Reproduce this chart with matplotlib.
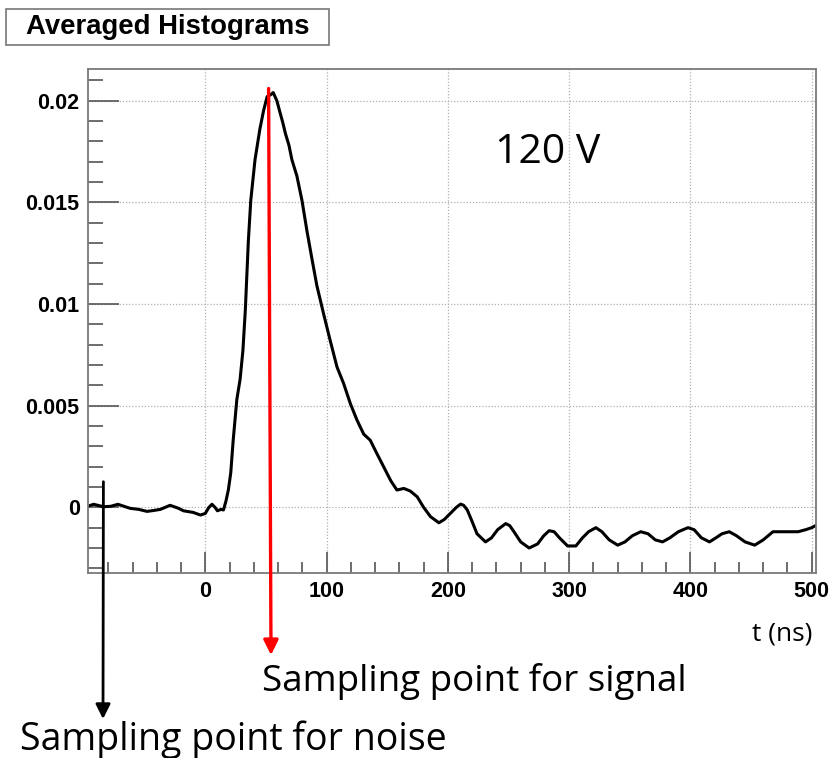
import matplotlib
matplotlib.use("Agg")
import matplotlib.pyplot as plt
from matplotlib.patches import Rectangle
from matplotlib.ticker import MultipleLocator

# averaged waveform (t in ns)
t = [-97, -92, -84, -78, -72, -62, -55, -48, -42, -37, -29, -22, -18, -10, -4, 0,
     3, 5.5, 8, 10, 13, 15, 17, 19, 21, 23, 26, 28.7, 31, 33, 35.5, 37.5, 41, 45,
     48, 51, 54, 56, 59, 61.7, 64, 66, 69, 71.4, 75.5, 79.7, 83.8, 88, 92, 97.6,
     103, 108.6, 114, 119.6, 125, 130.6, 136, 141, 147, 153, 158, 163.7, 169,
     174.7, 180, 185.7, 192.6, 197, 202, 207, 210.5, 213, 216, 220, 224, 231,
     236, 241, 247.7, 251, 254.5, 260, 267, 274, 279, 283.5, 287.6, 292, 298.7,
     305.5, 311, 316, 322, 327, 333, 340, 346, 352, 359, 365, 371, 377, 383, 390,
     398, 403, 409, 415.7, 421, 426, 432, 438, 445, 453, 460, 464, 468, 475, 482,
     488.8, 495, 500, 504]
v = [0.00005, 0.00015, 0.00003, 0.00005, 0.00015, -0.00005, -0.0001, -0.0002,
     -0.00015, -0.0001, 0.0001, -0.00005, -0.00017, -0.00025, -0.00038, -0.0003,
     0.0, 0.00015, 0.0, -0.00017, -0.0001, -0.00013, 0.0003, 0.00085, 0.0017,
     0.0033, 0.0053, 0.0063, 0.0077, 0.0097, 0.0131, 0.0151, 0.0171, 0.0186,
     0.0195, 0.0202, 0.0203, 0.0204, 0.0200, 0.0194, 0.0189, 0.0184, 0.0178,
     0.0171, 0.0163, 0.0151, 0.0136, 0.0122, 0.0109, 0.0095, 0.0082, 0.0069,
     0.0061, 0.0051, 0.0043, 0.0036, 0.0033, 0.0027, 0.0020, 0.0013, 0.00085,
     0.00093, 0.0008, 0.00052, 0.0, -0.00046, -0.00076, -0.0006, -0.0003, 0.0,
     0.00016, 0.0001, -0.00013, -0.0007, -0.0013, -0.0017, -0.0015, -0.0011,
     -0.0008, -0.0009, -0.0012, -0.0017, -0.0020, -0.0018, -0.0014, -0.00115,
     -0.0012, -0.0015, -0.0019, -0.0019, -0.0015, -0.0012, -0.0010, -0.0012,
     -0.0016, -0.00186, -0.0017, -0.0014, -0.0012, -0.0013, -0.0016, -0.0017,
     -0.0015, -0.0012, -0.0010, -0.0011, -0.0015, -0.0017, -0.0015, -0.0013,
     -0.0012, -0.0014, -0.0017, -0.00186, -0.0016, -0.0014, -0.0012, -0.0012,
     -0.0012, -0.0012, -0.0011, -0.001, -0.00087]

xticks = [0, 100, 200, 300, 400, 500]
yticks = [0, 0.005, 0.01, 0.015, 0.02]
ytick_labels = ["0", "0.005", "0.01", "0.015", "0.02"]

t_signal = 52.2
t_noise = -84

fig = plt.figure(figsize=(8.33, 7.58), dpi=100)
ax = fig.add_axes([88/833, 1-573/758, (816-88)/833, (573-69.3)/758])

ax.plot(t, v, color="black", lw=2.2)
ax.set_xlim(-96.7, 503.5)
ax.set_ylim(-0.00323, 0.021545)

# ROOT-like frame and ticks
for s in ax.spines.values():
    s.set_color("#7a7a7a")
    s.set_linewidth(1.3)
ax.set_xticks(xticks)
ax.set_yticks(yticks)
ax.set_yticklabels(ytick_labels)
ax.xaxis.set_minor_locator(MultipleLocator(20))
ax.yaxis.set_minor_locator(MultipleLocator(0.001))
ax.tick_params(which="both", direction="in", color="#555555", width=1.2)
ax.tick_params(axis="y", which="major", length=22, pad=6)
ax.tick_params(axis="y", which="minor", length=11)
ax.tick_params(axis="x", which="major", length=15, pad=6)
ax.tick_params(axis="x", which="minor", length=8)
for lab in ax.get_xticklabels() + ax.get_yticklabels():
    lab.set_fontfamily("Liberation Sans")
    lab.set_fontweight("bold")
    lab.set_fontsize(15.5)
ax.grid(True, which="major", color="#b0b0b0", ls=(0, (1, 1.5)), lw=0.9)

# title box
fig.patches.append(Rectangle((6/833, 1-45/758), 323/833, 36/758,
                             transform=fig.transFigure, fc="white",
                             ec="#777777", lw=1.2))
fig.text(168/833, 1-27/758, "Averaged Histograms", ha="center", va="center",
         fontfamily="Liberation Sans", fontweight="bold", fontsize=19.8)

ax.text(0.632, 0.835, "120 V", transform=ax.transAxes, fontfamily="Open Sans",
        fontsize=29.5, ha="center", va="center")

fig.text(812/833, 1-634/758, "t (ns)", ha="right", va="center",
         fontfamily="Open Sans", fontsize=19)

# sampling point arrows
ax.annotate("", xy=(271, 758-655), xycoords="figure pixels",
            xytext=(t_signal, 0.0206), textcoords="data",
            arrowprops=dict(arrowstyle="-|>", color="red", lw=2.4,
                            mutation_scale=22, shrinkA=0, shrinkB=0),
            annotation_clip=False)
ax.annotate("", xy=(103, 758-719), xycoords="figure pixels",
            xytext=(t_noise, 0.00126), textcoords="data",
            arrowprops=dict(arrowstyle="-|>", color="black", lw=2.0,
                            mutation_scale=22, shrinkA=0, shrinkB=0),
            annotation_clip=False)

fig.text(262/833, 1-682/758, "Sampling point for signal", ha="left", va="center",
         fontfamily="Open Sans", fontsize=26.5)
fig.text(20/833, 1-740/758, "Sampling point for noise", ha="left", va="center",
         fontfamily="Open Sans", fontsize=27)

fig.savefig("out.png", dpi=100)
